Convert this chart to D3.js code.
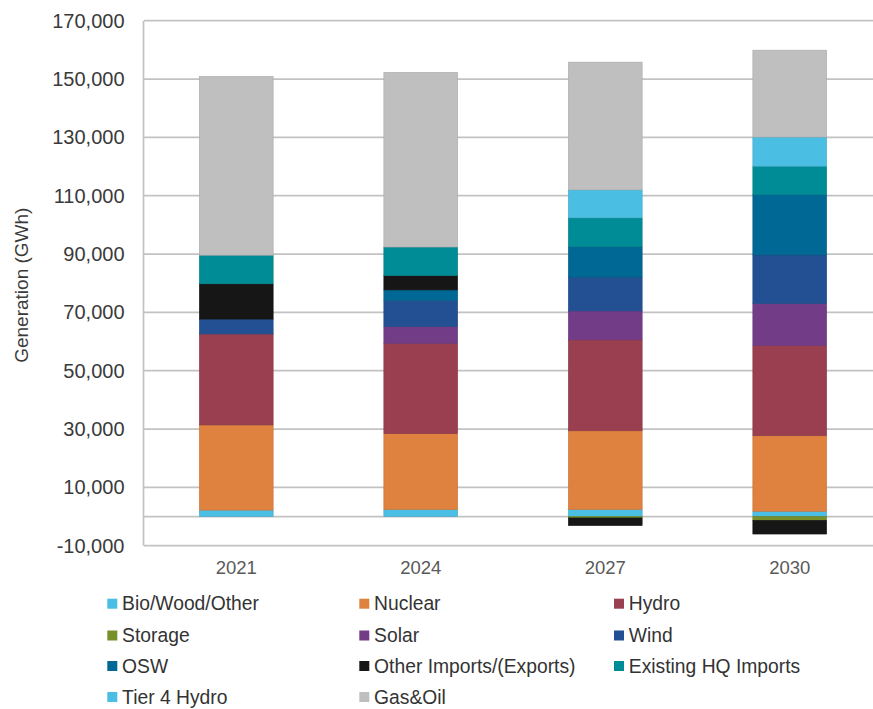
<!DOCTYPE html>
<html>
<head>
<meta charset="utf-8">
<script src="https://cdnjs.cloudflare.com/ajax/libs/d3/7.8.5/d3.min.js"></script>
<style>
  html, body { margin: 0; padding: 0; background: #ffffff; }
  svg { display: block; font-family: "Liberation Sans", Arial, sans-serif; }
</style>
</head>
<body>
<svg id="chart" width="873" height="709"></svg>
<script>
// Generation mix by year (GWh)
const years = ["2021", "2024", "2027", "2030"];

const bioWoodOther  = [2200, 2400, 2400, 1800];
const nuclear       = [29200, 26000, 27000, 25900];
const hydro         = [31200, 31000, 31200, 30900];
const storage       = [0, 0, -500, -1300];
const solar         = [0, 5700, 9900, 14400];
const wind          = [5100, 9000, 11600, 16700];
const osw           = [0, 3600, 10400, 20700];
const otherImports  = [12100, 4900, -2600, -4700];
const hqImports     = [9800, 9800, 9900, 9700];
const tier4Hydro    = [0, 0, 9600, 10000];
const gasOil        = [61300, 59900, 43800, 29800];

const seriesNames = ["Bio/Wood/Other", "Nuclear", "Hydro", "Storage", "Solar", "Wind",
                     "OSW", "Other Imports/(Exports)", "Existing HQ Imports", "Tier 4 Hydro", "Gas&Oil"];
const seriesValues = [bioWoodOther, nuclear, hydro, storage, solar, wind,
                      osw, otherImports, hqImports, tier4Hydro, gasOil];
const seriesColors = ["#4bbee3", "#e0823f", "#9a3f50", "#77902a", "#733c86", "#225093",
                      "#006894", "#161616", "#008c96", "#4bbee3", "#bfbfbf"];

const yTicks = [-10000, 10000, 30000, 50000, 70000, 90000, 110000, 130000, 150000, 170000];

// Rows for the stack: one object per year
const rows = years.map((yr, i) => {
  const r = { year: yr };
  seriesNames.forEach((n, k) => { r[n] = seriesValues[k][i]; });
  return r;
});

const svg = d3.select("#chart");

const plot = { left: 144, right: 882, top: 20.7, bottom: 545.7 };

const x = d3.scaleBand()
  .domain(years)
  .range([plot.left, plot.right])
  .paddingInner(0.6)
  .paddingOuter(0.3);

const y = d3.scaleLinear()
  .domain([-10000, 170000])
  .range([plot.bottom, plot.top]);

// Gridlines (labelled values plus zero)
const gridVals = yTicks.concat([0]);
svg.append("g")
  .selectAll("line")
  .data(gridVals)
  .join("line")
  .attr("x1", plot.left)
  .attr("x2", plot.right)
  .attr("y1", d => y(d))
  .attr("y2", d => y(d))
  .attr("stroke", "#c2c2c2")
  .attr("stroke-width", 1.7);

// Vertical value-axis line
svg.append("line")
  .attr("x1", plot.left - 0.5).attr("x2", plot.left - 0.5)
  .attr("y1", plot.top).attr("y2", plot.bottom)
  .attr("stroke", "#c2c2c2")
  .attr("stroke-width", 1.7);

// Stacked bars
const stack = d3.stack()
  .keys(seriesNames)
  .offset(d3.stackOffsetDiverging);
const layers = stack(rows);

svg.append("g")
  .selectAll("g")
  .data(layers)
  .join("g")
  .attr("fill", (d, i) => seriesColors[i])
  .attr("stroke", (d, i) => d3.color(seriesColors[i]).darker(0.35))
  .attr("stroke-width", 0.6)
  .selectAll("rect")
  .data(d => d.filter(p => p[1] !== p[0]))
  .join("rect")
  .attr("x", d => x(d.data.year))
  .attr("width", x.bandwidth())
  .attr("y", d => y(Math.max(d[0], d[1])))
  .attr("height", d => Math.abs(y(d[0]) - y(d[1])));

// Value axis labels (plain hyphen for negatives)
const fmt = d3.format(",");
const yAxis = d3.axisLeft(y)
  .tickValues(yTicks)
  .tickSize(0)
  .tickPadding(0)
  .tickFormat(d => fmt(d).replace("\u2212", "-"));
const yg = svg.append("g")
  .attr("transform", `translate(${plot.left - 19.5},0)`)
  .call(yAxis);
yg.select(".domain").remove();
yg.selectAll("text")
  .attr("fill", "#3a3a3a")
  .attr("font-size", 20)
  .attr("font-family", "Liberation Sans, Arial, sans-serif");

// Category axis labels
const xAxis = d3.axisBottom(x).tickSize(0).tickPadding(0);
const xg = svg.append("g")
  .attr("transform", `translate(0,${plot.bottom + 15})`)
  .call(xAxis);
xg.select(".domain").remove();
xg.selectAll("text")
  .attr("fill", "#595959")
  .attr("font-size", 18.5)
  .attr("font-family", "Liberation Sans, Arial, sans-serif");

// Axis title
svg.append("text")
  .attr("transform", `translate(28,${(plot.top + plot.bottom) / 2 + 2}) rotate(-90)`)
  .attr("text-anchor", "middle")
  .attr("font-size", 19)
  .attr("fill", "#3a3a3a")
  .text("Generation (GWh)");

// Legend
const legendCols = [107.3, 359.3, 614];
const legendRows = [603.7, 635.5, 666, 697];
const legend = svg.append("g")
  .selectAll("g")
  .data(seriesNames)
  .join("g")
  .attr("transform", (d, i) => `translate(${legendCols[i % 3]},${legendRows[Math.floor(i / 3)]})`);
legend.append("rect")
  .attr("x", 0).attr("y", -5)
  .attr("width", 10).attr("height", 10)
  .attr("fill", (d, i) => seriesColors[i]);
legend.append("text")
  .attr("x", 14.8)
  .attr("dy", "0.35em")
  .attr("font-size", 19.3)
  .attr("fill", "#333333")
  .text(d => d);
</script>
</body>
</html>
